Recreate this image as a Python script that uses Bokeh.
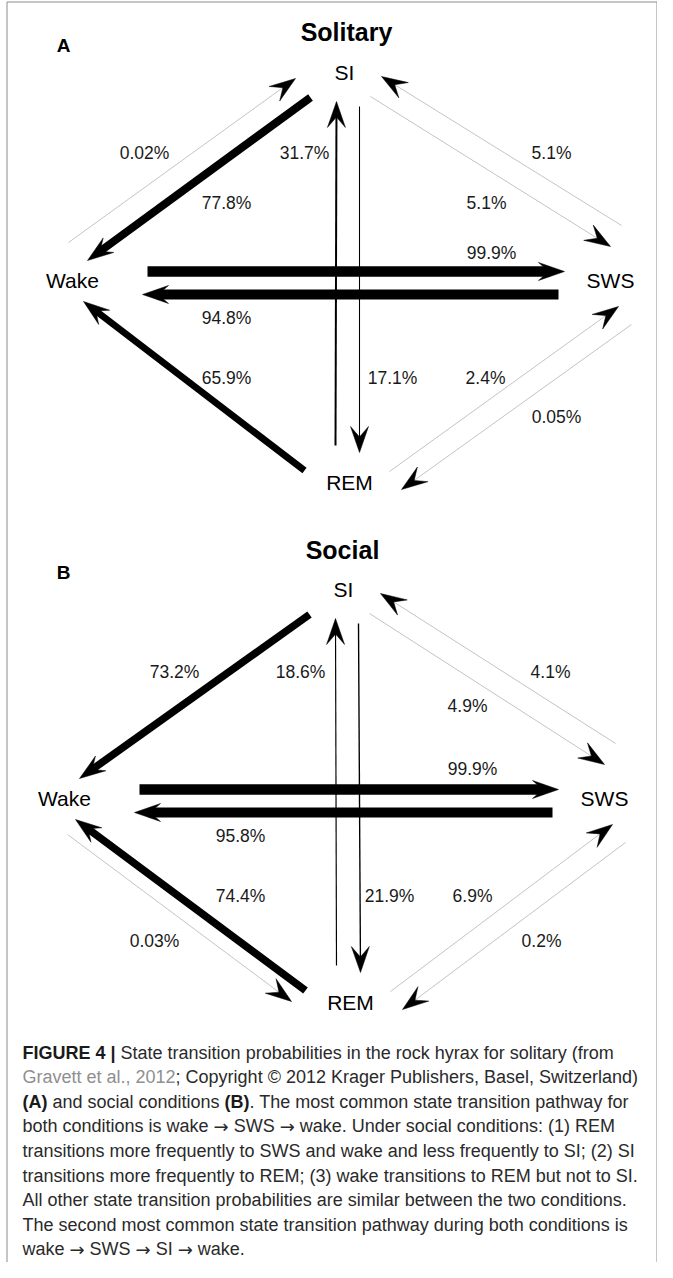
import math
from bokeh.plotting import figure
from bokeh.models import Range1d, ColumnDataSource
from bokeh.core.properties import value
from bokeh.embed import file_html
from bokeh.resources import INLINE

# ---------------- data ----------------
panel_titles = ["Solitary", "Social"]
panel_letters = ["A", "B"]
states = ["SI", "Wake", "SWS", "REM"]

edge_from = ["Wake", "SI", "REM", "SI", "SI", "SWS", "Wake", "SWS", "REM", "REM", "SWS", "Wake"]
edge_to = ["SI", "Wake", "SI", "REM", "SWS", "SI", "SWS", "Wake", "Wake", "SWS", "REM", "REM"]
solitary_pct = [0.02, 77.8, 31.7, 17.1, 5.1, 5.1, 99.9, 94.8, 65.9, 2.4, 0.05, None]
social_pct = [None, 73.2, 18.6, 21.9, 4.9, 4.1, 99.9, 95.8, 74.4, 6.9, 0.2, 0.03]
panel_pcts = [solitary_pct, social_pct]

caption_lines = [
    [("FIGURE 4 |", "bold"), ("State transition probabilities in the rock hyrax for solitary (from", "normal")],
    [("Gravett et al., 2012", "link"), ("; Copyright \u00a9 2012 Krager Publishers, Basel, Switzerland)", "normal")],
    [("(A)", "bold"), ("and social conditions", "normal"), ("(B)", "bold"),
     (". The most common state transition pathway for", "normal")],
    [("both conditions is wake \u2192 SWS \u2192 wake. Under social conditions: (1) REM", "normal")],
    [("transitions more frequently to SWS and wake and less frequently to SI; (2) SI", "normal")],
    [("transitions more frequently to REM; (3) wake transitions to REM but not to SI.", "normal")],
    [("All other state transition probabilities are similar between the two conditions.", "normal")],
    [("The second most common state transition pathway during both conditions is", "normal")],
    [("wake \u2192 SWS \u2192 SI \u2192 wake.", "normal")],
]

# ---------------- layout (page pixels) ----------------
node_pos = [
    {"SI": (352, 80), "Wake": (80, 288), "SWS": (618, 288), "REM": (357, 490)},
    {"SI": (351, 597), "Wake": (72, 806), "SWS": (612, 806), "REM": (358, 1010)},
]
title_pos = [(354, 39), (350, 557)]
letter_pos = [(71, 53), (71, 580)]

# port offsets of each edge relative to its start and end node
ports = {
    ("Wake", "SI"): ((-4, -38), (-49, 6)),
    ("SI", "Wake"): ((-34, 25), (15, -20)),
    ("REM", "SI"): ((-14, -37), (-8, 29)),
    ("SI", "REM"): ((15, 34), (10, -30)),
    ("SI", "SWS"): ((26, 24), (0, -34)),
    ("SWS", "SI"): ((11, -55), (37, 4)),
    ("Wake", "SWS"): ((75, -9), (-46, -9)),
    ("SWS", "Wake"): ((-52, 14), (70, 14)),
    ("REM", "Wake"): ((-45, -12), (11, 21)),
    ("Wake", "REM"): ((3, 36), (-59, -1)),
    ("REM", "SWS"): ((40, -11), (8, 26)),
    ("SWS", "REM"): ((21, 44), (52, 7)),
}

label_pos = [
    {("Wake", "SI"): (152, 160), ("SI", "Wake"): (234, 210), ("REM", "SI"): (312, 160),
     ("SI", "REM"): (400, 385), ("SI", "SWS"): (494, 210), ("SWS", "SI"): (559, 160),
     ("Wake", "SWS"): (499, 260), ("SWS", "Wake"): (234, 325), ("REM", "Wake"): (234, 385),
     ("REM", "SWS"): (493, 385), ("SWS", "REM"): (564, 424)},
    {("SI", "Wake"): (182, 679), ("REM", "SI"): (308, 679), ("SI", "REM"): (397, 903),
     ("SI", "SWS"): (475, 713), ("SWS", "SI"): (558, 679), ("Wake", "SWS"): (480, 776),
     ("SWS", "Wake"): (248, 843), ("REM", "Wake"): (248, 903), ("REM", "SWS"): (480, 903),
     ("SWS", "REM"): (549, 948), ("Wake", "REM"): (162, 948)},
]

FONT = "Liberation Sans"
ARROW_FONT = "DejaVu Sans"
ARROW = "\u2192"

# Arial / Liberation Sans advance widths (1/1000 em)
REG = {' ': 278, '!': 278, '(': 333, ')': 333, ',': 278, '-': 333, '.': 278, ':': 278, ';': 278,
       '%': 889, '\u00a9': 737, '|': 260}
for ch in "0123456789":
    REG[ch] = 556
REG.update(dict(zip("ABCDEFGHIJKLMNOPQRSTUVWXYZ",
                    [667, 667, 722, 722, 667, 611, 778, 722, 278, 500, 667, 556, 833, 722, 778, 667,
                     778, 722, 667, 611, 722, 667, 944, 667, 667, 611])))
REG.update(dict(zip("abcdefghijklmnopqrstuvwxyz",
                    [556, 556, 500, 556, 556, 278, 556, 556, 222, 222, 500, 222, 833, 556, 556, 556,
                     556, 333, 500, 278, 556, 500, 722, 500, 500, 500])))
BOLD = {' ': 278, '(': 333, ')': 333, '|': 280, '4': 556, 'A': 722, 'B': 722, 'E': 667, 'F': 611,
        'G': 778, 'I': 278, 'R': 722, 'U': 722}
ARROW_W = 838  # DejaVu Sans rightwards arrow


def text_width(s, size, style="normal"):
    if style == "arrow":
        return ARROW_W * len(s) * size / 1000.0
    tab = BOLD if style == "bold" else REG
    return sum(tab.get(c, REG.get(c, 556)) for c in s) * size / 1000.0


def edge_style(pct):
    if pct < 10:
        return 1.0, "#c4c4c4"
    if pct < 50:
        return max(1.0, pct / 16.0), "#000000"
    return pct / 9.7, "#000000"


HEAD_L, HEAD_W, NOTCH = 26.0, 9.0, 0.6


def arrow(x0, y0, x1, y1, w):
    dx, dy = x1 - x0, y1 - y0
    d = math.hypot(dx, dy)
    ux, uy = dx / d, dy / d
    nx, ny = -uy, ux
    bx, by = x1 - HEAD_L * ux, y1 - HEAD_L * uy
    mx, my = x1 - NOTCH * HEAD_L * ux, y1 - NOTCH * HEAD_L * uy
    hx = [x1, bx + HEAD_W * nx, mx, bx - HEAD_W * nx]
    hy = [y1, by + HEAD_W * ny, my, by - HEAD_W * ny]
    back = max(NOTCH * HEAD_L - 1.0, HEAD_L * (w / 2.0) / HEAD_W)
    return (x0, y0, x1 - back * ux, y1 - back * uy), (hx, hy)


# ---------------- figure ----------------
p = figure(width=657, height=1262, x_range=Range1d(8, 665), y_range=Range1d(1270, 8),
           output_backend="svg", toolbar_location=None, x_axis_type=None, y_axis_type=None,
           min_border=0, outline_line_color=None, title=None)
p.background_fill_color = "white"
p.border_fill_color = "white"

# frame
p.line([14.5, 14.5, 664.5, 664.5], [1270, 9.5, 9.5, 1270], line_color="#8c8c8c", line_width=1)

seg_gray = dict(x0=[], y0=[], x1=[], y1=[], w=[], c=[])
seg_black = dict(x0=[], y0=[], x1=[], y1=[], w=[], c=[])
heads = dict(xs=[], ys=[])
plab = dict(x=[], y=[], t=[])
nlab = dict(x=[], y=[], t=[])
tlab = dict(x=[], y=[], t=[])
llab = dict(x=[], y=[], t=[])

for k in range(2):
    nodes = node_pos[k]
    for s in states:
        nlab["x"].append(nodes[s][0]); nlab["y"].append(nodes[s][1]); nlab["t"].append(s)
    tlab["x"].append(title_pos[k][0]); tlab["y"].append(title_pos[k][1]); tlab["t"].append(panel_titles[k])
    llab["x"].append(letter_pos[k][0]); llab["y"].append(letter_pos[k][1]); llab["t"].append(panel_letters[k])
    for a, b, pct in zip(edge_from, edge_to, panel_pcts[k]):
        if pct is None:
            continue
        (ox0, oy0), (ox1, oy1) = ports[(a, b)]
        x0, y0 = nodes[a][0] + ox0, nodes[a][1] + oy0
        x1, y1 = nodes[b][0] + ox1, nodes[b][1] + oy1
        w, c = edge_style(pct)
        (sx0, sy0, sx1, sy1), (hx, hy) = arrow(x0, y0, x1, y1, w)
        tgt = seg_gray if pct < 10 else seg_black
        tgt["x0"].append(sx0); tgt["y0"].append(sy0); tgt["x1"].append(sx1); tgt["y1"].append(sy1)
        tgt["w"].append(w); tgt["c"].append(c)
        heads["xs"].append(hx); heads["ys"].append(hy)
        lx, ly = label_pos[k][(a, b)]
        plab["x"].append(lx); plab["y"].append(ly); plab["t"].append(f"{pct:g}%")

for src in (seg_gray, seg_black):
    p.segment(x0="x0", y0="y0", x1="x1", y1="y1", line_width="w", line_color="c",
              source=ColumnDataSource(src))
p.patches(xs="xs", ys="ys", fill_color="black", line_color="black", line_width=0.5,
          source=ColumnDataSource(heads))

p.text(x="x", y="y", text="t", source=ColumnDataSource(plab), text_font=value(FONT),
       text_font_size=value("17.5px"), text_align="center", text_baseline="middle", text_color="#1a1a1a")
p.text(x="x", y="y", text="t", source=ColumnDataSource(nlab), text_font=value(FONT),
       text_font_size=value("21px"), text_align="center", text_baseline="middle", text_color="#000000")
p.text(x="x", y="y", text="t", source=ColumnDataSource(tlab), text_font=value(FONT),
       text_font_size=value("25px"), text_font_style="bold", text_align="center",
       text_baseline="middle", text_color="#000000")
p.text(x="x", y="y", text="t", source=ColumnDataSource(llab), text_font=value(FONT),
       text_font_size=value("19px"), text_font_style="bold", text_align="center",
       text_baseline="middle", text_color="#000000")


# caption: split arrows into their own segments (drawn with a font whose arrow glyph is full size)
def split_arrows(segs):
    out = []
    for txt, sty in segs:
        parts = txt.split(ARROW)
        for i, part in enumerate(parts):
            part = part.strip()
            if part:
                out.append((part, sty))
            if i + 1 < len(parts):
                out.append((ARROW, "arrow"))
    return out


CAP_SIZE = 18
cap = {s: dict(x=[], y=[], t=[]) for s in ("normal", "bold", "link", "arrow")}
for i, segs in enumerate(caption_lines):
    segs = split_arrows(segs)
    y = 1060 + i * 24.6
    x = 30.0
    for j, (txt, sty) in enumerate(segs):
        cap[sty]["x"].append(x); cap[sty]["y"].append(y); cap[sty]["t"].append(txt)
        x += text_width(txt, CAP_SIZE, sty)
        if j + 1 < len(segs) and not segs[j + 1][0].startswith((".", ";", ",")):
            x += text_width(" ", CAP_SIZE)

cap_styles = {"normal": (FONT, "normal", "#2a2a2a"), "bold": (FONT, "bold", "#1a1a1a"),
              "link": (FONT, "normal", "#8f8f8f"), "arrow": (ARROW_FONT, "normal", "#2a2a2a")}
for sty, d in cap.items():
    fnt, fs, col = cap_styles[sty]
    p.text(x="x", y="y", text="t", source=ColumnDataSource(d), text_font=value(fnt),
           text_font_size=value(f"{CAP_SIZE}px"), text_font_style=fs, text_align="left",
           text_baseline="middle", text_color=col)

open("out.html", "w").write(file_html(p, INLINE))
